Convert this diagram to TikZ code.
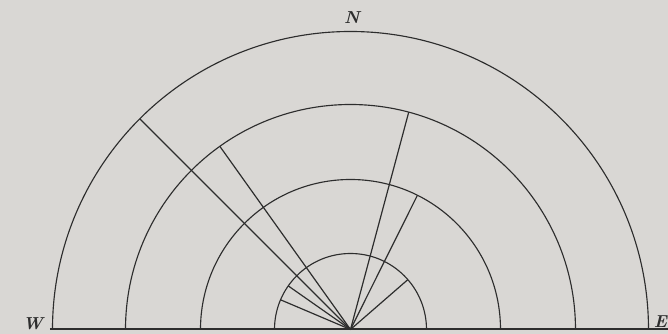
\documentclass[tikz,border=0pt]{standalone}
\usepackage{xcolor}
\definecolor{paper}{RGB}{217,215,212}
\definecolor{ink}{RGB}{45,45,45}
\begin{document}
\begin{tikzpicture}[x=1pt,y=1pt,
  ring/.style={draw=ink, line width=0.85pt},
  ray/.style={draw=ink, line width=0.9pt},
  ground/.style={draw=ink, line width=1.5pt},
  lab/.style={text=ink, font=\fontsize{13}{15}\selectfont\itshape\bfseries, inner sep=0pt}]
\fill[paper] (-262.875,-3.375) rectangle (238.125,247.125);
\useasboundingbox (-262.875,-3.375) rectangle (238.125,247.125);
\coordinate (O) at (0,0);
% rings
\draw[ring] (O) ++(223.5pt,0) arc[start angle=0,end angle=180,radius=223.5pt];
\draw[ring] (O) ++(168.75pt,0) arc[start angle=0,end angle=180,radius=168.75pt];
\draw[ring] (O) ++(112.5pt,0) arc[start angle=0,end angle=180,radius=112.5pt];
\draw[ring] (O) ++(57pt,0) arc[start angle=0,end angle=180,radius=57pt];
% ground line
\coordinate (gl) at (-225.4,0);
\coordinate (gr) at (238.125,0);
\draw[ground] (gl) -- (gr);
% rays
\coordinate (r1) at (135:223.5);
\coordinate (r2) at (125.5:168.75);
\coordinate (r3) at (75:168.75);
\coordinate (r4) at (63.5:112.5);
\coordinate (r5) at (145:57);
\coordinate (r6) at (157:57);
\coordinate (r7) at (41:57);
\foreach \p in {r1,r2,r3,r4,r5,r6,r7} \draw[ray] (O) -- (\p);
% labels
\node[lab] (N) at (1.1,233.6) {N};
\node[lab] (W) at (-238.1,4.1) {W};
\node[lab, anchor=south east] (E) at (237.6,1.6) {E};
\end{tikzpicture}
\end{document}
